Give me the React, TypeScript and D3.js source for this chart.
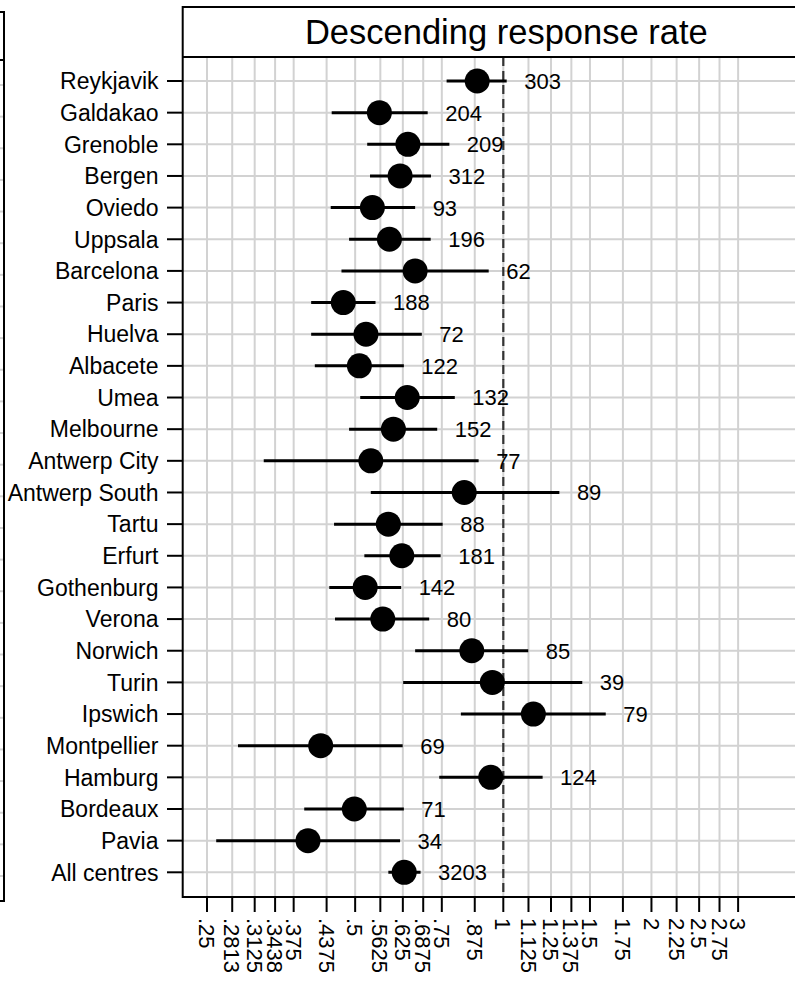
import React from 'react';
import * as d3 from 'd3';

// centres, top to bottom
const centres = [
  'Reykjavik', 'Galdakao', 'Grenoble', 'Bergen', 'Oviedo', 'Uppsala', 'Barcelona',
  'Paris', 'Huelva', 'Albacete', 'Umea', 'Melbourne', 'Antwerp City', 'Antwerp South',
  'Tartu', 'Erfurt', 'Gothenburg', 'Verona', 'Norwich', 'Turin', 'Ipswich',
  'Montpellier', 'Hamburg', 'Bordeaux', 'Pavia', 'All centres',
];
const estimate = [
  0.885, 0.560, 0.640, 0.617, 0.542, 0.587, 0.662, 0.473, 0.526, 0.510, 0.638, 0.598, 0.538,
  0.833, 0.584, 0.622, 0.524, 0.569, 0.863, 0.950, 1.151, 0.4255, 0.943, 0.498, 0.401, 0.629,
];
const lower = [
  0.767, 0.448, 0.529, 0.536, 0.446, 0.486, 0.469, 0.407, 0.407, 0.414, 0.512, 0.486, 0.326,
  0.538, 0.453, 0.522, 0.443, 0.455, 0.662, 0.626, 0.820, 0.289, 0.741, 0.394, 0.261, 0.584,
];
const upper = [
  1.016, 0.702, 0.777, 0.713, 0.662, 0.712, 0.934, 0.550, 0.683, 0.628, 0.797, 0.734, 0.891,
  1.300, 0.753, 0.746, 0.620, 0.707, 1.124, 1.447, 1.615, 0.6245, 1.202, 0.628, 0.617, 0.679,
];
const counts = [
  303, 204, 209, 312, 93, 196, 62, 188, 72, 122, 132, 152, 77, 89, 88, 181, 142, 80, 85, 39,
  79, 69, 124, 71, 34, 3203,
];
const tickValues = [
  0.25, 0.2813, 0.3125, 0.3438, 0.375, 0.4375, 0.5, 0.5625, 0.625, 0.6875, 0.75, 0.875,
  1, 1.125, 1.25, 1.375, 1.5, 1.75, 2, 2.25, 2.5, 2.75, 3,
];
const tickLabels = [
  '.25', '.2813', '.3125', '.3438', '.375', '.4375', '.5', '.5625', '.625', '.6875', '.75', '.875',
  '1', '1.125', '1.25', '1.375', '1.5', '1.75', '2', '2.25', '2.5', '2.75', '3',
];
const title = 'Descending response rate';

const FONT = '"Liberation Sans", Arial, Helvetica, sans-serif';
const GRID = '#d2d2d2';

const App: React.FC = () => {
  const width = 795;
  const height = 982;

  // panel geometry
  const left = 182.7;
  const right = 823.9;
  const top = 7;
  const headerBottom = 57;
  const bottom = 897;

  const x = d3.scaleLog().domain([Math.exp(-1.5), Math.exp(1.5)]).range([left, right]);
  const y = d3.scalePoint<string>().domain(centres).range([81, 872.3]);
  // partial neighbour panel at the left edge sits a little lower
  const yLeft = d3.scalePoint<string>().domain(centres).range([85, 876]);

  const rows = centres.map((c, i) => ({
    name: c, est: estimate[i], lo: lower[i], hi: upper[i], n: counts[i],
  }));

  return (
    <svg width={width} height={height} style={{ position: 'absolute', left: 0, top: 0, background: '#fff' }}
      fontFamily={FONT}>
      {/* neighbouring panel, cut off */}
      <g>
        {centres.map(c => (
          <line key={c} x1={0} x2={3} y1={yLeft(c)} y2={yLeft(c)} stroke={GRID} strokeWidth={2} />
        ))}
        <path d="M0,12 H4 V901 H0" fill="none" stroke="#000" strokeWidth={2} />
        <line x1={0} x2={4} y1={60} y2={60} stroke="#000" strokeWidth={2} />
      </g>

      {/* grid */}
      {tickValues.map(v => (
        <line key={'v' + v} x1={x(v)} x2={x(v)} y1={headerBottom} y2={bottom} stroke={GRID} strokeWidth={2} />
      ))}
      {centres.map(c => (
        <line key={'h' + c} x1={left} x2={right} y1={y(c)} y2={y(c)} stroke={GRID} strokeWidth={2} />
      ))}

      {/* reference line at 1 */}
      <line x1={x(1)} x2={x(1)} y1={headerBottom} y2={bottom} stroke="#333" strokeWidth={2.2}
        strokeDasharray="9,5" />

      {/* CIs, estimates, counts */}
      {rows.map(r => (
        <g key={r.name}>
          <line x1={x(r.lo)} x2={x(r.hi)} y1={y(r.name)} y2={y(r.name)} stroke="#000" strokeWidth={3} />
          <circle cx={x(r.est)} cy={y(r.name)} r={12.5} fill="#000" />
          <text x={x(r.hi) + 17.5} y={y(r.name)} dy="0.36em" fontSize={22} fill="#000">{r.n}</text>
        </g>
      ))}

      {/* frame + header */}
      <rect x={left} y={top} width={right - left} height={bottom - top} fill="none" stroke="#000" strokeWidth={2} />
      <line x1={left} x2={right} y1={headerBottom} y2={headerBottom} stroke="#000" strokeWidth={2} />
      <text x={(left + right) / 2 + 3} y={44} textAnchor="middle" fontSize={34.5} fill="#000">{title}</text>

      {/* y axis */}
      {centres.map(c => (
        <g key={'y' + c}>
          <line x1={167} x2={left} y1={y(c)} y2={y(c)} stroke="#000" strokeWidth={2} />
          <text x={158.5} y={y(c)} dy="0.36em" textAnchor="end" fontSize={23} fill="#000">{c}</text>
        </g>
      ))}

      {/* x axis */}
      {tickValues.map((v, i) => (
        <g key={'x' + v}>
          <line x1={x(v)} x2={x(v)} y1={bottom} y2={912} stroke="#000" strokeWidth={2} />
          <text transform={`translate(${x(v)},918) rotate(90)`} dy="0.36em" fontSize={22} fill="#000">
            {tickLabels[i]}
          </text>
        </g>
      ))}
    </svg>
  );
};

export default App;
